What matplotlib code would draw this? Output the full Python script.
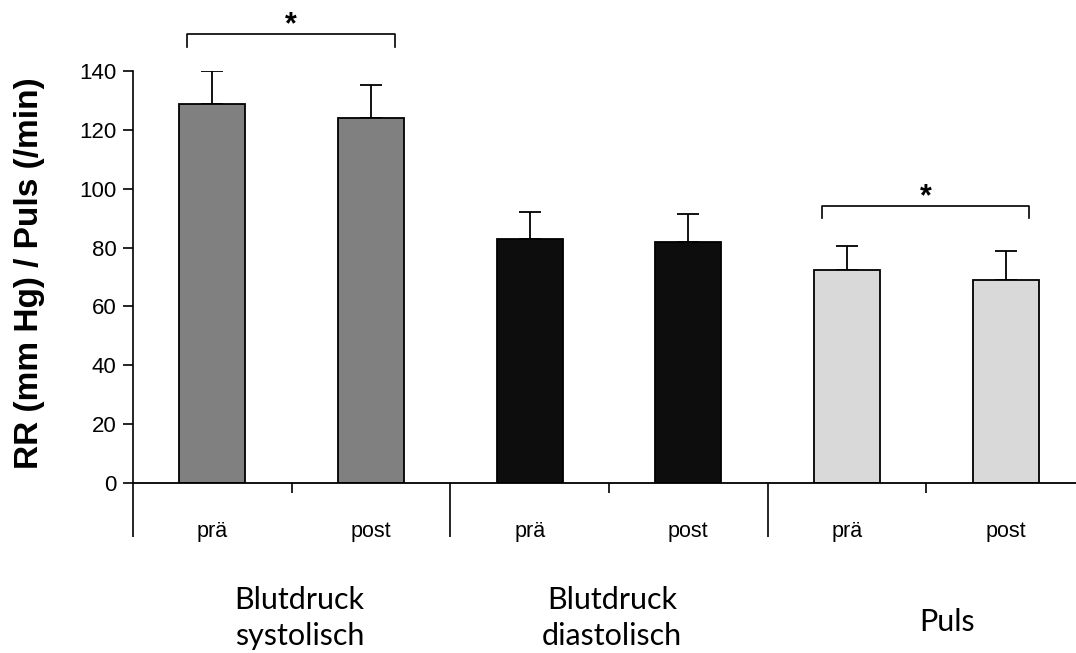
import matplotlib
matplotlib.use("Agg")
import matplotlib.pyplot as plt
import numpy as np

# values
cond = ['prä', 'post', 'prä', 'post', 'prä', 'post']
means = [128.7, 123.9, 82.9, 81.9, 72.4, 69.1]
sds = [11.3, 11.2, 9.2, 9.6, 8.1, 9.6]
colors = ['#808080', '#808080', '#0d0d0d', '#0d0d0d', '#d9d9d9', '#d9d9d9']
groups = ['Blutdruck\nsystolisch', 'Blutdruck\ndiastolisch', 'Puls']
group_x = [0.55, 2.52, 4.63]
sig_pairs = [(0, 1), (4, 5)]

plt.rcParams['font.family'] = ['Liberation Sans', 'DejaVu Sans']

fig = plt.figure(figsize=(10.76, 6.53), dpi=100)
ax = fig.add_axes([133 / 1076, 170 / 653, 952 / 1076, 412 / 653])

x = np.arange(len(means))
ax.bar(x, means, width=0.415, color=colors, edgecolor='black', linewidth=1.3, zorder=2)
ax.errorbar(x, means, yerr=[np.zeros(len(sds)), sds], fmt='none', ecolor='black',
            elinewidth=1.3, capsize=8, capthick=1.3, zorder=1)

ax.set_xlim(-0.5, 5.5)
ax.set_ylim(0, 140)
ax.set_yticks(np.arange(0, 141, 20))
ax.tick_params(axis='y', direction='out', length=7, width=1.2, labelsize=16, pad=5)
for s in ['top', 'right', 'bottom']:
    ax.spines[s].set_visible(False)
ax.spines['left'].set_linewidth(1.2)
ax.axhline(0, color='black', linewidth=1.3, clip_on=False)

# category axis: short ticks inside groups, long separators between groups
ax.set_xticks(x, cond)
ax.tick_params(axis='x', length=0, labelsize=15.5, pad=27)
ax.vlines([0.5, 2.5, 4.5], -3.4, 0, color='black', linewidth=1.2, clip_on=False)
ax.vlines([-0.5, 1.5, 3.5], -18.4, 0, color='black', linewidth=1.2, clip_on=False)

for gx, g in zip(group_x, groups):
    gy = -45.8 if '\n' in g else -47.2
    ax.text(gx, gy, g, ha='center', va='center', fontsize=22, family=['Lato', 'DejaVu Sans'],
            linespacing=1.35)

# significance brackets
for a, b in sig_pairs:
    yb = 152.6 if a == 0 else 94.2
    xs = [a - 0.16, a - 0.16, b + 0.15, b + 0.15]
    ax.plot(xs, [yb - 4.3, yb, yb, yb - 4.3], color='black', linewidth=1.2, clip_on=False)
    ax.text((xs[0] + xs[-1]) / 2, yb + 0.3, '*', ha='center', va='baseline', fontsize=22,
            fontweight='bold', clip_on=False)

fig.text(30 / 1076, 1 - 273 / 653, 'RR (mm Hg) / Puls (/min)', rotation=90, ha='center',
         va='center', fontsize=24, fontweight='bold')

fig.savefig('out.png', dpi=100)
